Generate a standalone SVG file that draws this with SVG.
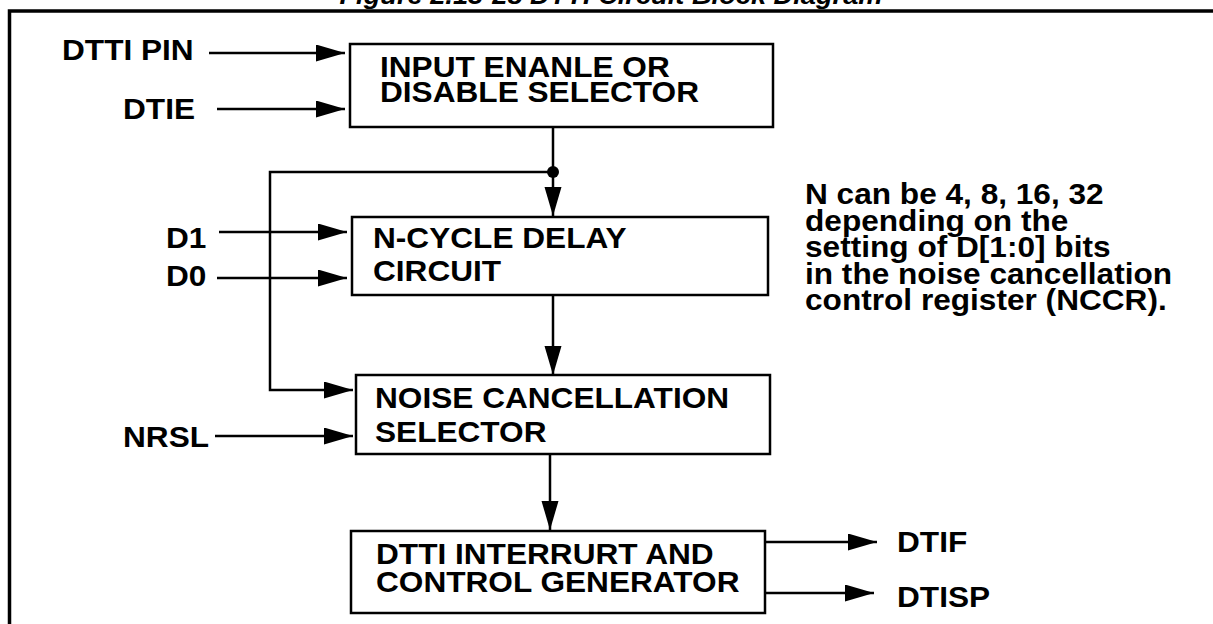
<svg xmlns="http://www.w3.org/2000/svg" width="1213" height="624" viewBox="0 0 1213 624">
<defs>
<style>
.t{font-family:"Liberation Sans",Arial,Helvetica,sans-serif;font-weight:bold;font-size:29px;fill:#000}
.title{font-family:"Liberation Sans",Arial,Helvetica,sans-serif;font-weight:bold;font-style:italic;font-size:25px;fill:#000}
.box{fill:#fff;stroke:#000;stroke-width:2.5}
.ln{fill:none;stroke:#000;stroke-width:2.5}
.frame{fill:none;stroke:#000;stroke-width:3.5}
</style>
<marker id="ah" markerUnits="userSpaceOnUse" markerWidth="30" markerHeight="18" refX="29" refY="8.5" orient="auto">
<path d="M0,0 L29,8.5 L0,17 Z" fill="#000"/>
</marker>
</defs>
<rect width="1213" height="624" fill="#fff"/>
<text class="title" transform="matrix(1.09 0 0 1 611 4)" text-anchor="middle">Figure 2.13-28  DTTI Circuit Block Diagram</text>
<path class="frame" d="M9.5,624 V11 H1213"/>

<g id="connectors">
<line class="ln" x1="209" y1="53" x2="345" y2="53" marker-end="url(#ah)"/>
<line class="ln" x1="217" y1="109" x2="345" y2="109" marker-end="url(#ah)"/>
<line class="ln" x1="553" y1="127" x2="553" y2="216" marker-end="url(#ah)"/>
<circle cx="553" cy="172" r="6" fill="#000"/>
<polyline class="ln" points="553,172 270,172 270,390 353,390" marker-end="url(#ah)"/>
<line class="ln" x1="219" y1="232" x2="347" y2="232" marker-end="url(#ah)"/>
<line class="ln" x1="217" y1="278" x2="347" y2="278" marker-end="url(#ah)"/>
<line class="ln" x1="553" y1="295" x2="553" y2="375" marker-end="url(#ah)"/>
<line class="ln" x1="215" y1="436" x2="353" y2="436" marker-end="url(#ah)"/>
<line class="ln" x1="550" y1="454" x2="550" y2="530" marker-end="url(#ah)"/>
<line class="ln" x1="766" y1="542" x2="877" y2="542" marker-end="url(#ah)"/>
<line class="ln" x1="766" y1="593" x2="874" y2="593" marker-end="url(#ah)"/>
</g>

<g id="label-dtti-pin"><text class="t" transform="matrix(1.09 0 0 1 62 60)">DTTI PIN</text></g>
<g id="label-dtie"><text class="t" transform="matrix(1.09 0 0 1 123 119)">DTIE</text></g>
<g id="label-d1"><text class="t" transform="matrix(1.09 0 0 1 166 248)">D1</text></g>
<g id="label-d0"><text class="t" transform="matrix(1.09 0 0 1 166 286)">D0</text></g>
<g id="label-nrsl"><text class="t" transform="matrix(1.09 0 0 1 123 447)">NRSL</text></g>
<g id="label-dtif"><text class="t" transform="matrix(1.09 0 0 1 897 552)">DTIF</text></g>
<g id="label-dtisp"><text class="t" transform="matrix(1.09 0 0 1 897 607)">DTISP</text></g>

<g id="node-input-selector">
<rect class="box" x="350" y="44" width="423" height="83"/>
<text class="t" transform="matrix(1.09 0 0 1 380 77)">INPUT ENANLE OR</text>
<text class="t" transform="matrix(1.09 0 0 1 380 102)">DISABLE SELECTOR</text>
</g>
<g id="node-ncycle-delay">
<rect class="box" x="352" y="217" width="416" height="78"/>
<text class="t" transform="matrix(1.09 0 0 1 373 248)">N-CYCLE DELAY</text>
<text class="t" transform="matrix(1.09 0 0 1 373 281)">CIRCUIT</text>
</g>
<g id="node-noise-cancel">
<rect class="box" x="356" y="375" width="414" height="79"/>
<text class="t" transform="matrix(1.09 0 0 1 375 408)">NOISE CANCELLATION</text>
<text class="t" transform="matrix(1.09 0 0 1 375 442)">SELECTOR</text>
</g>
<g id="node-interrupt-gen">
<rect class="box" x="351" y="531" width="414" height="82"/>
<text class="t" transform="matrix(1.09 0 0 1 376 564)">DTTI INTERRURT AND</text>
<text class="t" transform="matrix(1.09 0 0 1 376 592)">CONTROL GENERATOR</text>
</g>

<g id="note">
<text class="t" transform="matrix(1.09 0 0 1 805 204)">N can be 4, 8, 16, 32</text>
<text class="t" transform="matrix(1.09 0 0 1 805 230.5)">depending on the</text>
<text class="t" transform="matrix(1.09 0 0 1 805 257)">setting of D[1:0] bits</text>
<text class="t" transform="matrix(1.09 0 0 1 805 283.5)">in the noise cancellation</text>
<text class="t" transform="matrix(1.09 0 0 1 805 310)">control register (NCCR).</text>
</g>
</svg>
